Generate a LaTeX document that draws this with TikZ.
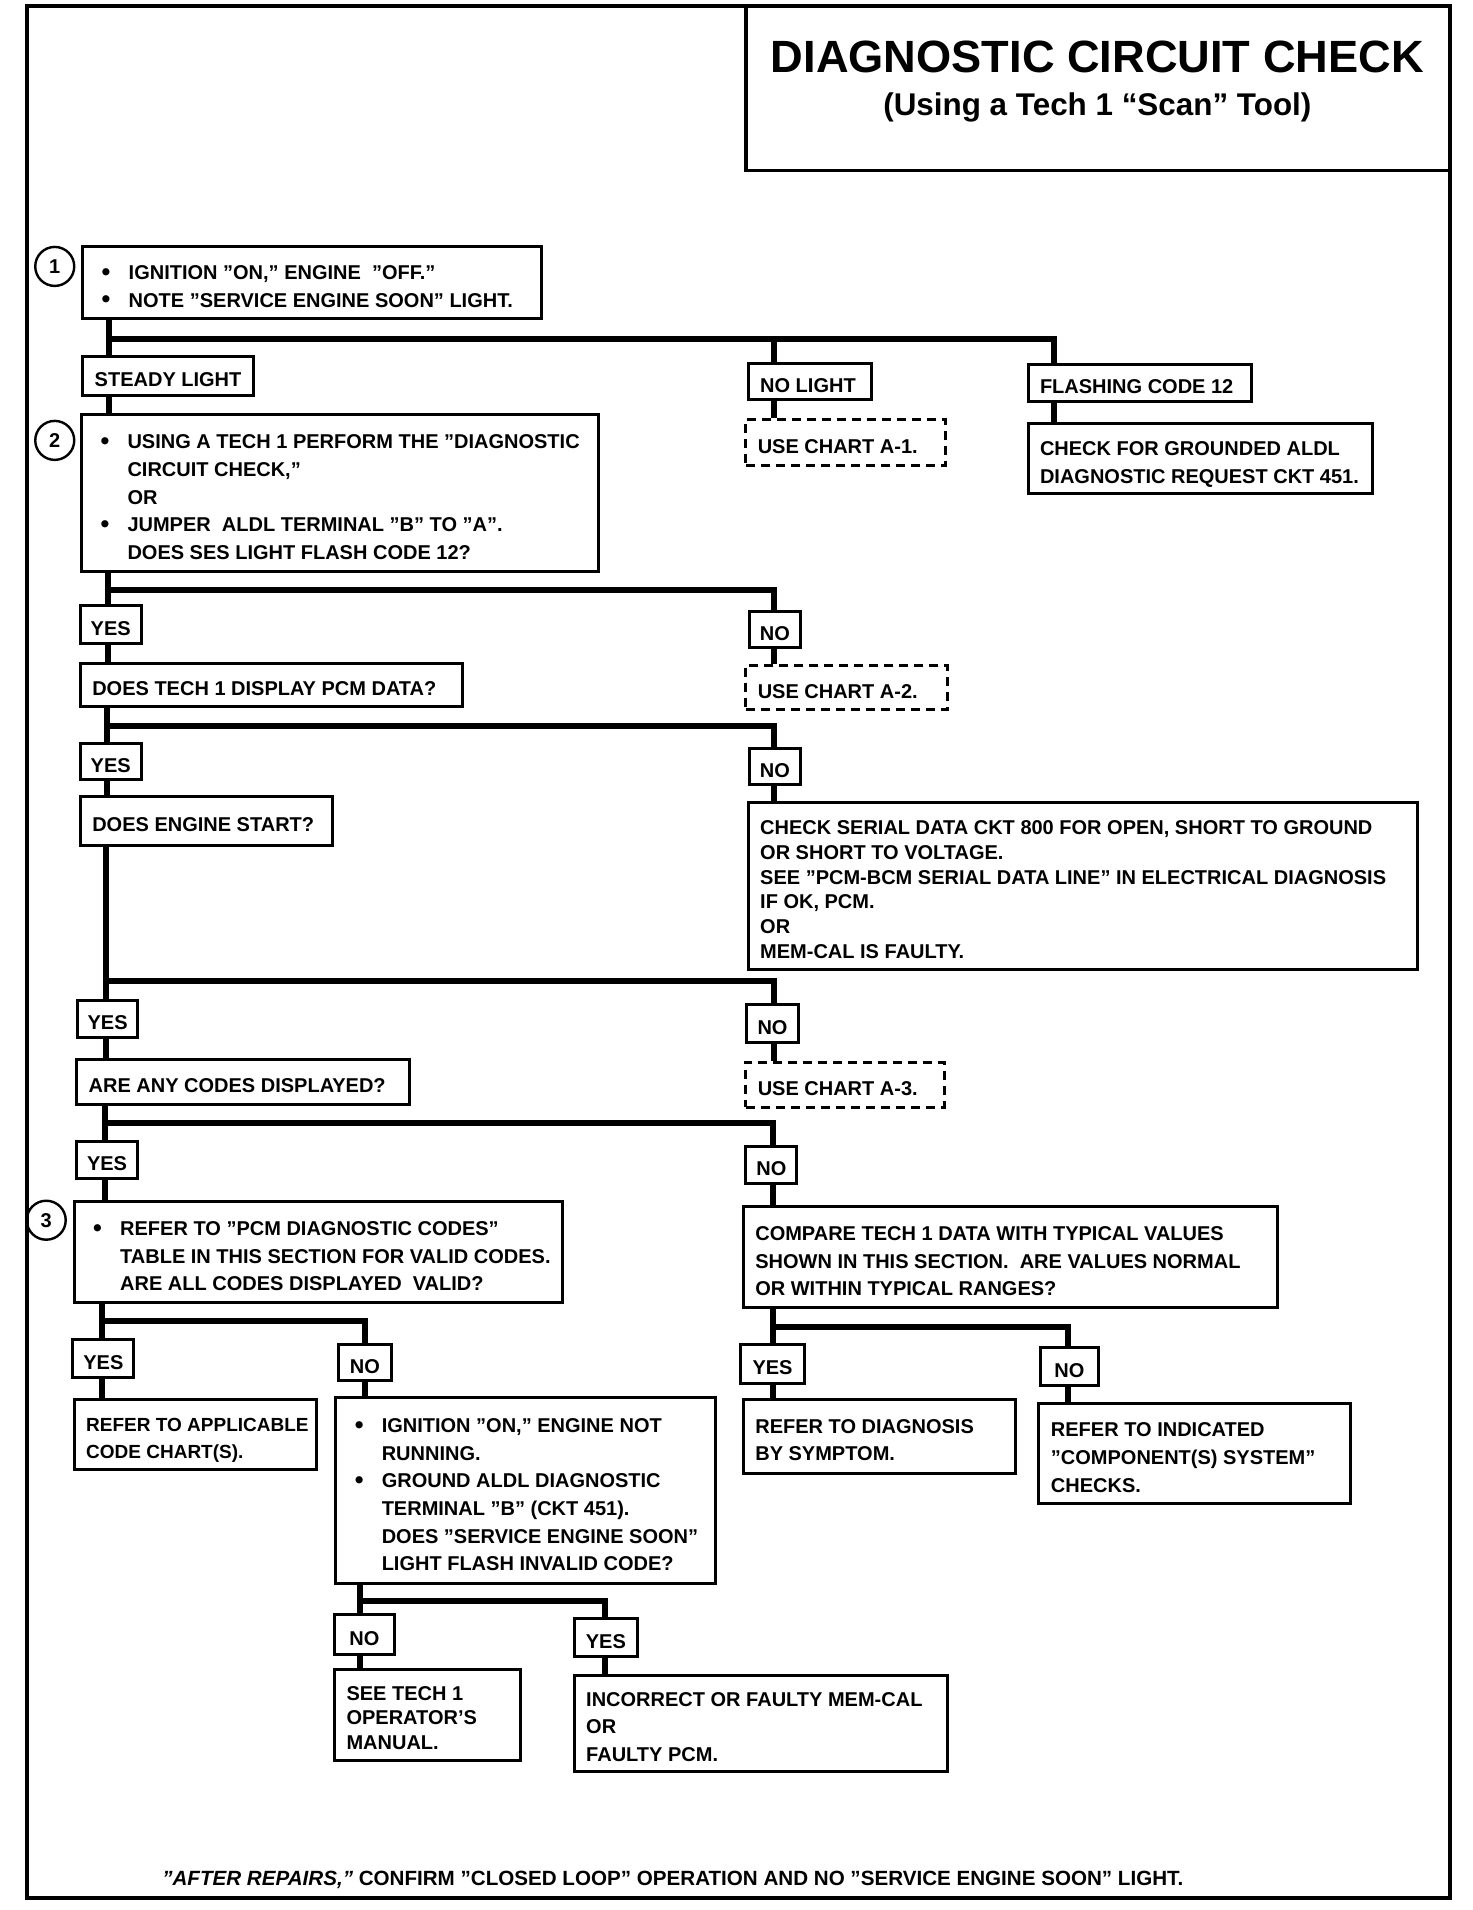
\documentclass[tikz,border=0pt]{standalone}
\usepackage{fontspec}
\setmainfont{Liberation Sans}
\usetikzlibrary{calc}
\newcommand{\bul}{\hspace*{3.5pt}\makebox[13.5pt][l]{\raisebox{-0.3pt}{\fontsize{12.5}{12}\selectfont\textbullet}}}
\newcommand{\ind}{\hspace*{17pt}}
\newcommand{\bxal}{l}
\newcommand{\bx}[7][]{%
  \pgfmathsetmacro{\bxw}{(#5-#3)*0.6083}%
  \pgfmathsetmacro{\bxh}{(#6-#4)*0.6083}%
  \pgfmathsetmacro{\bxt}{\bxw-12}%
  \node[box,#1,minimum width=\bxw pt,minimum height=\bxh pt] (#2) at ({(#3+#5)/2},{(#4+#6)/2})
    {\raisebox{-2.6pt}[\height][\depth]{\makebox[\bxt pt][\bxal]{\begin{tabular}{@{}l@{}}#7\end{tabular}}}};}
\begin{document}
\begin{tikzpicture}[x=0.6083pt,y=-0.6083pt,
  box/.style={draw,line width=1.5pt,inner xsep=6pt,inner ysep=0pt,
    font=\bfseries\fontsize{10}{13.8}\selectfont},
  sm/.style={execute at begin node={\renewcommand{\bxal}{c}}},
  tight/.style={font=\bfseries\fontsize{10}{12.4}\selectfont},
  narrow/.style={font=\bfseries\fontsize{9.5}{13.8}\selectfont},
  dbox/.style={dash pattern=on 4.5pt off 3pt},
  conn/.style={line width=3pt},
  num/.style={circle,draw,line width=1.2pt,minimum size=19.5pt,inner sep=0pt,
    font=\bfseries\fontsize{10}{12}\selectfont},
  frame/.style={line width=1.8pt}]
\useasboundingbox (0,0) rectangle (1210,1570);
\draw[frame] (22,5) rectangle (1192,1560);
% title
\bx[line width=1.8pt]{titlebox}{613}{5}{1192}{140}{}
\node[font=\bfseries\fontsize{22.6}{26}\selectfont] (title) at (902,47) {DIAGNOSTIC CIRCUIT CHECK};
\node[font=\bfseries\fontsize{15.7}{18}\selectfont] (subtitle) at (902,88) {(Using a Tech 1 “Scan” Tool)};
% column coordinates
\coordinate (k90) at (90,0);
\coordinate (k89) at (89,0);
\coordinate (k88) at (88,0);
\coordinate (k87) at (87,0);
\coordinate (k86) at (86,0);
\coordinate (k84) at (84,0);
\coordinate (k636) at (636,0);
\coordinate (k635) at (635,0);
\coordinate (k866) at (866,0);
\coordinate (k300) at (300,0);
\coordinate (k878) at (878,0);
\coordinate (k296) at (296,0);
\coordinate (k497) at (497,0);
\coordinate (bar1) at (0,279);
\coordinate (bar2) at (0,485);
\coordinate (bar3) at (0,597);
\coordinate (bar4) at (0,806);
\coordinate (bar5) at (0,923);
\coordinate (bar6) at (0,1086);
\coordinate (bar7) at (0,1091);
\coordinate (bar8) at (0,1316);
% numbers
\node[num] (n1) at (45,219) {1};
\node[num] (n2) at (45,362) {2};
\node[num] (n3) at (38,1003) {3};
% boxes
\bx{b1}{68}{203}{445}{262}{\bul IGNITION "ON," ENGINE\ \ "OFF."\\\bul NOTE "SERVICE ENGINE SOON" LIGHT.}
\bx{steady}{68}{293}{208}{325}{STEADY LIGHT}
\bx{nolight}{615}{299}{716}{328}{NO LIGHT}
\bx[dbox]{chartA1}{613}{345}{777}{383}{USE CHART A-1.}
\bx{flash}{845}{300}{1029}{330}{FLASHING CODE 12}
\bx{ground}{845}{348}{1128}{406}{CHECK FOR GROUNDED ALDL\\DIAGNOSTIC REQUEST CKT 451.}
\bx{b2}{67}{341}{492}{470}{\bul USING A TECH 1 PERFORM THE "DIAGNOSTIC\\\ind CIRCUIT CHECK,"\\\ind OR\\\bul JUMPER\ \ ALDL TERMINAL "B" TO "A".\\\ind DOES SES LIGHT FLASH CODE 12?}
\bx[sm]{yes2}{66}{498}{116}{529}{YES}
\bx[sm]{no2}{616}{503}{658}{532}{NO}
\bx[dbox]{chartA2}{613}{547}{779}{583}{USE CHART A-2.}
\bx{pcm}{66}{545}{380}{581}{DOES TECH 1 DISPLAY PCM DATA?}
\bx[sm]{yes3}{66}{611}{116}{641}{YES}
\bx[sm]{no3}{616}{615}{658}{645}{NO}
\bx{engine}{66}{655}{273}{695}{DOES ENGINE START?}
\bx[tight]{serial}{615}{660}{1165}{797}{CHECK SERIAL DATA CKT 800 FOR OPEN, SHORT TO GROUND\\OR SHORT TO VOLTAGE.\\SEE "PCM-BCM SERIAL DATA LINE" IN ELECTRICAL DIAGNOSIS\\IF OK, PCM.\\OR\\MEM-CAL IS FAULTY.}
\bx[sm]{yes4}{64}{822}{113}{853}{YES}
\bx[sm]{no4}{614}{826}{656}{857}{NO}
\bx[dbox]{chartA3}{613}{873}{776}{910}{USE CHART A-3.}
\bx{codes}{63}{871}{337}{908}{ARE ANY CODES DISPLAYED?}
\bx[sm]{yes5}{63}{938}{113}{969}{YES}
\bx[sm]{no5}{613}{942}{655}{973}{NO}
\bx{b3}{61}{988}{462}{1071}{\bul REFER TO "PCM DIAGNOSTIC CODES"\\\ind TABLE IN THIS SECTION FOR VALID CODES.\\\ind ARE ALL CODES DISPLAYED\ \ VALID?}
\bx{compare}{611}{992}{1050}{1075}{COMPARE TECH 1 DATA WITH TYPICAL VALUES\\SHOWN IN THIS SECTION.\ \ ARE VALUES NORMAL\\OR WITHIN TYPICAL RANGES?}
\bx[sm]{yes6}{60}{1101}{110}{1132}{YES}
\bx[sm]{no6}{278}{1105}{322}{1135}{NO}
\bx[narrow]{applic}{61}{1150}{260}{1208}{REFER TO APPLICABLE\\CODE CHART(S).}
\bx{ign}{276}{1149}{588}{1302}{\bul IGNITION "ON," ENGINE NOT\\\ind RUNNING.\\\bul GROUND ALDL DIAGNOSTIC\\\ind TERMINAL "B" (CKT 451).\\\ind DOES "SERVICE ENGINE SOON"\\\ind LIGHT FLASH INVALID CODE?}
\bx[sm]{yes7}{609}{1105}{661}{1137}{YES}
\bx[sm]{no7}{855}{1108}{903}{1139}{NO}
\bx{symptom}{611}{1150}{835}{1211}{REFER TO DIAGNOSIS\\BY SYMPTOM.}
\bx{indicated}{854}{1154}{1110}{1236}{REFER TO INDICATED\\"COMPONENT(S) SYSTEM"\\CHECKS.}
\bx[sm]{no8}{275}{1327}{324}{1360}{NO}
\bx[sm]{yes8}{472}{1330}{524}{1362}{YES}
\bx[tight]{seetech}{275}{1372}{428}{1447}{SEE TECH 1\\OPERATOR'S\\MANUAL.}
\bx{incorrect}{472}{1377}{779}{1456}{INCORRECT OR FAULTY MEM-CAL\\OR\\FAULTY PCM.}
% footer
\node[font=\bfseries\fontsize{10.3}{12}\selectfont] (footer) at (553,1545) {\textit{"AFTER REPAIRS,"} CONFIRM "CLOSED LOOP" OPERATION AND NO "SERVICE ENGINE SOON" LIGHT.};
% connectors
\draw[conn] (b1.south -| k90) -- (steady.north -| k90);
\draw[conn] (steady.south -| k90) -- (b2.north -| k90);
\draw[conn] (k90 |- bar1) -| (flash.north -| k866);
\draw[conn] (k636 |- bar1) -- (nolight.north -| k636);
\draw[conn] (nolight.south -| k636) -- (chartA1.north -| k636);
\draw[conn] (flash.south -| k866) -- (ground.north -| k866);
%
\draw[conn] (b2.south -| k89) -- (yes2.north -| k89);
\draw[conn] (yes2.south -| k89) -- (pcm.north -| k89);
\draw[conn] (k89 |- bar2) -| (no2.north -| k636);
\draw[conn] (no2.south -| k636) -- (chartA2.north -| k636);
%
\draw[conn] (pcm.south -| k88) -- (yes3.north -| k88);
\draw[conn] (yes3.south -| k88) -- (engine.north -| k88);
\draw[conn] (k88 |- bar3) -| (no3.north -| k636);
\draw[conn] (no3.south -| k636) -- (serial.north -| k636);
%
\draw[conn] (engine.south -| k87) -- (yes4.north -| k87);
\draw[conn] (yes4.south -| k87) -- (codes.north -| k87);
\draw[conn] (k87 |- bar4) -| (no4.north -| k636);
\draw[conn] (no4.south -| k636) -- (chartA3.north -| k636);
%
\draw[conn] (codes.south -| k86) -- (yes5.north -| k86);
\draw[conn] (yes5.south -| k86) -- (b3.north -| k86);
\draw[conn] (k86 |- bar5) -| (no5.north -| k635);
\draw[conn] (no5.south -| k635) -- (compare.north -| k635);
%
\draw[conn] (b3.south -| k84) -- (yes6.north -| k84);
\draw[conn] (yes6.south -| k84) -- (applic.north -| k84);
\draw[conn] (k84 |- bar6) -| (no6.north -| k300);
\draw[conn] (no6.south -| k300) -- (ign.north -| k300);
%
\draw[conn] (compare.south -| k635) -- (yes7.north -| k635);
\draw[conn] (yes7.south -| k635) -- (symptom.north -| k635);
\draw[conn] (k635 |- bar7) -| (no7.north -| k878);
\draw[conn] (no7.south -| k878) -- (indicated.north -| k878);
%
\draw[conn] (ign.south -| k296) -- (no8.north -| k296);
\draw[conn] (no8.south -| k296) -- (seetech.north -| k296);
\draw[conn] (k296 |- bar8) -| (yes8.north -| k497);
\draw[conn] (yes8.south -| k497) -- (incorrect.north -| k497);
\end{tikzpicture}
\end{document}
